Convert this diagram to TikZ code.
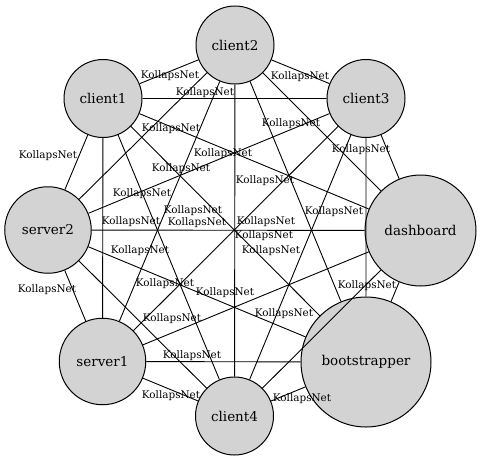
\documentclass[tikz,border=0pt]{standalone}
\usepackage{fontspec}
\setmainfont{DejaVu Serif}
\usepackage{tikz}
\usetikzlibrary{shapes.geometric, positioning}
\usepackage{xcolor}
\definecolor{hostGray}{RGB}{211,211,211}

\begin{document}
\begin{tikzpicture}[
    x=1pt, y=-1pt,
    host/.style={circle, draw=black, fill=hostGray, line width=1pt, inner sep=0pt, minimum size=78pt, font=\fontsize{13.5}{16}\selectfont},
    link/.style={line width=0.9pt},
    netlabel/.style={inner sep=0pt, font=\fontsize{10.4}{12}\selectfont}
]
\useasboundingbox (0,0) rectangle (482,461);

% Hosts
\node[host] (client2) at (235,45) {client2};
\node[host] (client1) at (103,98.5) {client1};
\node[host] (client3) at (366,98.5) {client3};
\node[host, minimum size=86.5pt] (server2) at (48,230) {server2};
\node[host, minimum size=111pt] (dashboard) at (420.5,230.5) {dashboard};
\node[host, minimum size=86.5pt] (server1) at (102.5,361.5) {server1};
\node[host, minimum size=130pt] (bootstrapper) at (366,362) {bootstrapper};
\node[host] (client4) at (234.5,416) {client4};

% Links (full mesh)
\draw[link] (client2) -- (client1) (client2) -- (client3) (client2) -- (server2) (client2) -- (dashboard)
    (client2) -- (server1) (client2) -- (bootstrapper) (client2) -- (client4);
\draw[link] (client1) -- (client3) (client1) -- (server2) (client1) -- (dashboard) (client1) -- (server1)
    (client1) -- (bootstrapper) (client1) -- (client4);
\draw[link] (client3) -- (server2) (client3) -- (dashboard) (client3) -- (server1) (client3) -- (bootstrapper)
    (client3) -- (client4);
\draw[link] (server2) -- (dashboard) (server2) -- (server1) (server2) -- (bootstrapper) (server2) -- (client4);
\draw[link] (dashboard) -- (server1) (dashboard) -- (bootstrapper) (dashboard) -- (client4);
\draw[link] (server1) -- (bootstrapper) (server1) -- (client4);
\draw[link] (bootstrapper) -- (client4);

% Link labels
\node[netlabel] (kn1) at (170,75.5) {KollapsNet};
\node[netlabel] (kn2) at (205,92.5) {KollapsNet};
\node[netlabel] (kn3) at (300,76.5) {KollapsNet};
\node[netlabel] (kn4) at (48,155.5) {KollapsNet};
\node[netlabel] (kn5) at (171,128.5) {KollapsNet};
\node[netlabel] (kn6) at (223,153.5) {KollapsNet};
\node[netlabel] (kn7) at (291,123.5) {KollapsNet};
\node[netlabel] (kn8) at (361,149.5) {KollapsNet};
\node[netlabel] (kn9) at (181,168.5) {KollapsNet};
\node[netlabel] (kn10) at (265,180.5) {KollapsNet};
\node[netlabel] (kn11) at (142,193.5) {KollapsNet};
\node[netlabel] (kn12) at (193,210.5) {KollapsNet};
\node[netlabel] (kn13) at (131,221.5) {KollapsNet};
\node[netlabel] (kn14) at (197,222.5) {KollapsNet};
\node[netlabel] (kn15) at (266,221.5) {KollapsNet};
\node[netlabel] (kn16) at (264,235.5) {KollapsNet};
\node[netlabel] (kn17) at (271,250.5) {KollapsNet};
\node[netlabel] (kn18) at (334,211.5) {KollapsNet};
\node[netlabel] (kn19) at (140,250.5) {KollapsNet};
\node[netlabel] (kn20) at (47,289.5) {KollapsNet};
\node[netlabel] (kn21) at (165,283.5) {KollapsNet};
\node[netlabel] (kn22) at (225,292.5) {KollapsNet};
\node[netlabel] (kn23) at (172,318.5) {KollapsNet};
\node[netlabel] (kn24) at (192,355.5) {KollapsNet};
\node[netlabel] (kn25) at (171,395.5) {KollapsNet};
\node[netlabel] (kn26) at (302,398.5) {KollapsNet};
\node[netlabel] (kn27) at (284,313.5) {KollapsNet};
\node[netlabel] (kn28) at (367,285.5) {KollapsNet};
\end{tikzpicture}
\end{document}
